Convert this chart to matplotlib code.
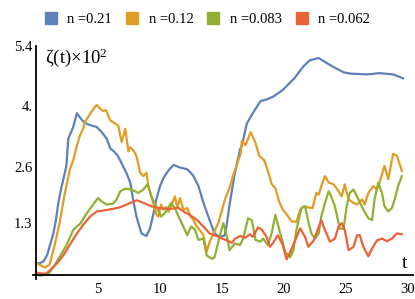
import matplotlib
matplotlib.use("Agg")
import matplotlib.pyplot as plt
from matplotlib.lines import Line2D

plt.rcParams['font.family'] = ['Liberation Serif', 'DejaVu Serif']
plt.rcParams['mathtext.fontset'] = 'custom'
plt.rcParams['mathtext.rm'] = 'Liberation Serif'
plt.rcParams['mathtext.it'] = 'Liberation Serif:italic'

labels = ["n =0.21", "n =0.12", "n =0.083", "n =0.062"]
colors = ["#5E81B5", "#E19C24", "#8FB032", "#EB6235"]

t_021 = [0.0, 0.3, 0.6, 0.9, 1.2, 1.4, 1.6, 1.8, 2.0, 2.2, 2.45, 2.6, 2.8, 3.0, 3.3, 3.6, 3.9, 4.3,
         4.9, 5.3, 5.7, 6.0, 6.3, 6.6, 7.0, 7.3, 7.6, 7.85, 8.1, 8.5, 8.9, 9.2, 9.5, 9.7, 10.0, 10.3,
         10.7, 11.1, 11.6, 12.2, 12.5, 12.7, 13.1, 13.5, 14.0, 14.4, 14.8, 15.2, 15.35, 15.6, 16.0,
         16.45, 16.6, 17.0, 17.5, 18.1, 18.6, 19.1, 19.9, 20.8, 21.6, 22.1, 22.8, 23.3, 24.0, 24.8,
         25.3, 26.7, 27.7, 28.8, 29.6]
v_021 = [0.36, 0.36, 0.40, 0.55, 0.85, 1.05, 1.35, 1.76, 2.05, 2.30, 2.62, 3.25, 3.38, 3.52, 3.84, 3.72,
         3.62, 3.57, 3.52, 3.40, 3.25, 3.02, 2.95, 2.85, 2.62, 2.45, 2.23, 1.80, 1.44, 1.05, 0.99, 1.17,
         1.55, 1.84, 2.15, 2.35, 2.52, 2.64, 2.58, 2.54, 2.45, 2.38, 2.15, 1.76, 1.36, 1.05, 0.97, 1.00,
         1.20, 1.70, 2.40, 3.00, 3.09, 3.60, 3.85, 4.12, 4.16, 4.22, 4.38, 4.64, 4.94, 5.07, 5.12, 5.03,
         4.91, 4.79, 4.76, 4.74, 4.77, 4.74, 4.65]

t_012 = [0.0, 0.2, 0.7, 1.0, 1.1, 1.4, 1.6, 1.9, 2.3, 2.74, 3.0, 3.3, 3.55, 3.8, 3.95, 4.35, 4.76, 4.9,
         5.16, 5.4, 5.65, 5.97, 6.37, 6.64, 6.9, 7.2, 7.45, 7.6, 7.85, 8.1, 8.4, 8.66, 8.9, 9.06, 9.3,
         9.73, 9.87, 10.08, 10.27, 10.5, 10.7, 10.9, 11.2, 11.4, 11.6, 11.9, 12.2, 12.45, 12.7, 12.96,
         13.2, 13.5, 13.76, 14.0, 14.3, 14.7, 15.0, 15.24, 15.6, 15.9, 16.2, 16.5, 16.6, 16.9, 17.3,
         17.7, 18.0, 18.4, 18.7, 19.0, 19.3, 19.6, 19.9, 20.2, 20.6, 21.0, 21.3, 21.6, 22.0, 22.3, 22.6,
         22.8, 23.0, 23.3, 23.6, 24.0, 24.4, 24.65, 24.9, 25.2, 25.6, 25.9, 26.3, 26.5, 26.8, 27.2, 27.5,
         27.7, 28.1, 28.4, 28.8, 29.1, 29.5]
v_012 = [0.35, 0.34, 0.26, 0.31, 0.34, 0.66, 0.90, 1.29, 1.95, 2.55, 2.75, 3.09, 3.33, 3.48, 3.64, 3.82,
         3.99, 4.03, 3.95, 3.89, 3.91, 3.68, 3.60, 3.55, 3.17, 3.48, 2.95, 3.05, 2.98, 2.85, 2.46, 2.38,
         2.46, 2.15, 1.91, 1.48, 1.44, 1.72, 1.60, 1.66, 1.55, 1.70, 1.91, 1.64, 1.87, 1.60, 1.64, 1.45,
         1.36, 1.21, 1.13, 1.01, 0.62, 0.85, 1.05, 1.29, 1.60, 1.84, 2.10, 2.40, 2.65, 2.90, 3.20, 3.10,
         3.40, 3.15, 2.85, 2.75, 2.50, 2.20, 2.10, 1.80, 1.60, 1.50, 1.33, 1.32, 1.60, 1.68, 1.65, 1.64,
         1.99, 1.95, 2.15, 2.38, 2.23, 2.19, 2.03, 1.91, 2.19, 1.84, 1.76, 1.72, 1.84, 1.72, 1.99, 2.15,
         2.07, 2.23, 2.62, 2.31, 2.90, 2.85, 2.50]

t_0083 = [0.0, 0.32, 1.0, 1.4, 1.9, 2.5, 3.0, 3.6, 4.0, 4.4, 4.7, 5.0, 5.3, 5.7, 6.2, 6.5, 6.8, 7.2, 7.7,
          8.25, 8.66, 9.0, 9.3, 9.7, 10.1, 10.5, 10.9, 11.2, 11.5, 11.7, 12.2, 12.5, 12.8, 13.1, 13.5,
          13.76, 14.2, 14.4, 14.8, 15.1, 15.4, 15.6, 16.05, 16.45, 16.7, 17.1, 17.4, 17.7, 18.1, 18.3,
          18.7, 19.0, 19.3, 19.7, 20.1, 20.5, 20.75, 21.0, 21.4, 21.7, 21.96, 22.2, 22.5, 22.8, 23.0,
          23.3, 23.6, 23.8, 24.1, 24.5, 24.8, 25.05, 25.3, 25.6, 26.0, 26.4, 26.8, 27.1, 27.3, 27.6,
          27.9, 28.1, 28.4, 28.7, 28.95, 29.2, 29.5]
v_0083 = [0.10, 0.07, 0.11, 0.27, 0.50, 0.80, 1.13, 1.29, 1.48, 1.64, 1.76, 1.87, 1.79, 1.72, 1.74, 1.84,
          2.03, 2.09, 2.07, 1.99, 2.07, 2.19, 1.91, 1.68, 1.44, 1.56, 1.76, 1.64, 1.44, 1.32, 1.01, 1.21,
          1.15, 0.90, 0.93, 0.54, 0.46, 0.50, 0.97, 1.29, 0.97, 0.66, 0.82, 0.78, 0.93, 1.40, 1.36, 0.90,
          0.86, 0.93, 0.78, 1.05, 1.48, 1.05, 0.62, 0.50, 0.66, 1.13, 1.64, 1.68, 1.32, 1.05, 0.93, 1.05,
          1.44, 1.76, 2.03, 1.91, 1.68, 1.16, 1.16, 1.68, 1.99, 2.07, 1.84, 1.60, 1.40, 1.36, 1.84, 2.23,
          1.99, 1.68, 1.56, 1.64, 1.87, 2.15, 2.38]

t_0062 = [0.0, 0.75, 1.1, 1.67, 2.2, 2.8, 3.3, 3.8, 4.35, 4.9, 5.4, 6.2, 6.8, 7.3, 7.7, 8.12, 8.66, 9.3,
          9.87, 10.7, 11.5, 11.9, 12.4, 13.0, 13.5, 14.0, 14.6, 15.0, 15.4, 15.8, 16.05, 16.45, 16.85,
          17.25, 17.5, 17.9, 18.2, 18.6, 18.85, 19.1, 19.5, 19.9, 20.2, 20.5, 20.9, 21.3, 21.7, 21.96,
          22.4, 22.8, 23.0, 23.3, 23.7, 24.1, 24.4, 24.65, 24.9, 25.2, 25.6, 25.9, 26.1, 26.4, 26.8,
          27.1, 27.5, 27.9, 28.3, 28.7, 29.1, 29.5]
v_0062 = [0.14, 0.11, 0.19, 0.35, 0.54, 0.82, 1.05, 1.25, 1.44, 1.56, 1.58, 1.62, 1.66, 1.72, 1.77, 1.82,
          1.76, 1.68, 1.64, 1.62, 1.64, 1.56, 1.48, 1.36, 1.21, 1.05, 0.99, 0.93, 0.89, 0.83, 0.93, 0.99,
          0.95, 1.03, 0.97, 1.19, 1.14, 0.97, 0.74, 0.82, 1.01, 0.78, 0.45, 0.62, 0.89, 1.17, 0.97, 0.74,
          0.89, 1.20, 1.36, 1.13, 0.86, 0.93, 1.21, 1.29, 1.13, 0.66, 0.74, 1.01, 1.01, 0.74, 0.52, 0.70,
          0.89, 0.93, 0.87, 0.93, 1.05, 1.03]

x_ticks = [5, 10, 15, 20, 25, 30]
y_ticks = [1.3, 2.6, 4.0, 5.4]
y_tick_labels = ["1.3", "2.6", "4.", "5.4"]

series = [(t_021, v_021), (t_012, v_012), (t_0083, v_0083), (t_0062, v_0062)]

fig = plt.figure(figsize=(4.15, 2.99), dpi=100)
ax = fig.add_axes([0.0793, 0.0679, 0.9159, 0.7783])

for (t, v), c in zip(series, colors):
    ax.plot(t, v, color=c, lw=1.6, solid_joinstyle='round')

ax.set_xlim(-0.25, 30.4)
ax.set_ylim(0, 5.4)
ax.spines['top'].set_visible(False)
ax.spines['right'].set_visible(False)
ax.spines['left'].set_position(('data', 0))
ax.spines['bottom'].set_position(('data', 0.08))
for s in ('left', 'bottom'):
    ax.spines[s].set_linewidth(1.3)
    ax.spines[s].set_color('black')

ax.set_xticks(x_ticks)
ax.set_xticklabels([str(x) for x in x_ticks])
ax.set_yticks(y_ticks)
ax.set_yticklabels(y_tick_labels)
ax.tick_params(axis='x', length=0, pad=5.5, labelsize=10.5)
ax.tick_params(axis='y', length=0, pad=2.5, labelsize=10.5)
ax.patch.set_alpha(0)

ax.text(0.032, 0.948, "ζ(t)×$10^2$", transform=ax.transAxes, ha='left', va='center', fontsize=13.5)
ax.text(0.979, 0.067, "t", transform=ax.transAxes, ha='center', va='center', fontsize=14)

handles = [Line2D([], [], marker='s', linestyle='none', markersize=8.5, color=c) for c in colors]
fig.legend(handles, labels, loc='center', bbox_to_anchor=(0.5, 0.934), ncol=4, frameon=False,
           fontsize=10.5, handlelength=0.8, handletextpad=0.75, columnspacing=0.95, borderpad=0)

fig.savefig("out.png", dpi=100)
